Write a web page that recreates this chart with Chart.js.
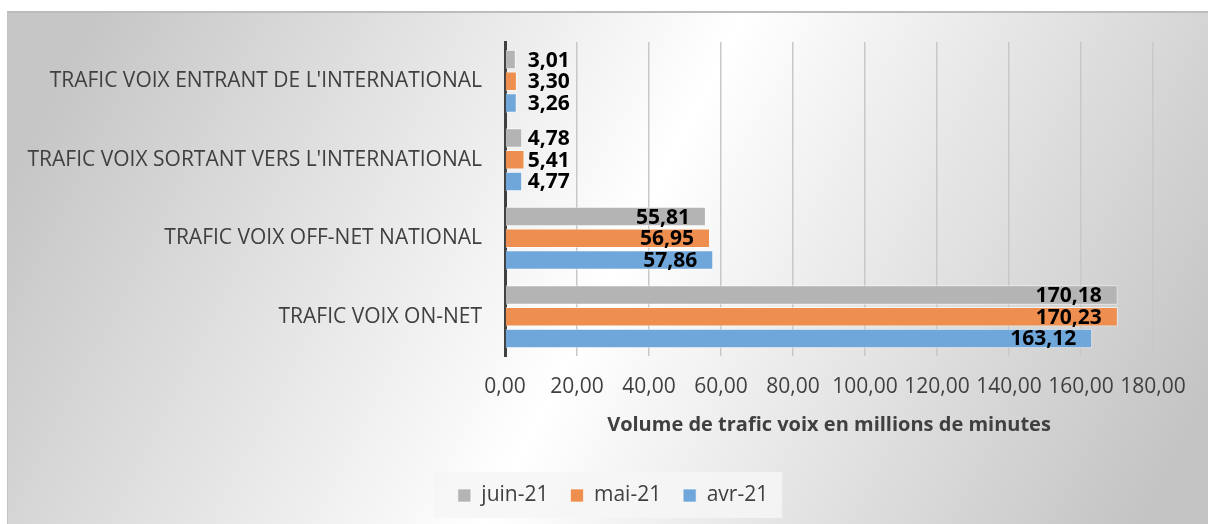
<!DOCTYPE html>
<html>
<head>
<meta charset="utf-8">
<script src="https://cdn.jsdelivr.net/npm/chart.js@4.4.1/dist/chart.umd.min.js"></script>
<style>
  html, body { margin: 0; padding: 0; background: #fff; width: 1208px; height: 524px; overflow: hidden; }
  #frame {
    position: absolute; left: 7px; top: 11px; width: 1210px; height: 520px;
    border-top: 2px solid #bcbcbc; border-left: 1px solid #c4c4c4;
    background: linear-gradient(117deg, #c6c6c6 6%, #ffffff 50%, #c3c3c3 95%);
  }
  #chart { position: absolute; left: 0; top: 0; }
</style>
</head>
<body>
<div id="frame"></div>
<canvas id="chart" width="1208" height="524"></canvas>
<script>
const categories = [
    "TRAFIC VOIX ENTRANT DE L'INTERNATIONAL",
    "TRAFIC VOIX SORTANT VERS L'INTERNATIONAL",
    "TRAFIC VOIX OFF-NET NATIONAL",
    "TRAFIC VOIX ON-NET"
];
const juin21 = [3.01, 4.78, 55.81, 170.18];
const mai21 = [3.30, 5.41, 56.95, 170.23];
const avr21 = [3.26, 4.77, 57.86, 163.12];
const xMin = 0, xMax = 180, xStep = 20;

const fmt = (v) => v.toFixed(2).replace(".", ",");
const FONT = "'Open Sans', 'DejaVu Sans', sans-serif";
const TEXT = "#404040";

// value labels: inside end when they fit, otherwise just after the bar
const valueLabels = {
    id: "valueLabels",
    afterDatasetsDraw(chart) {
        const ctx = chart.ctx;
        ctx.save();
        ctx.font = "bold 21px " + FONT;
        ctx.fillStyle = "#000";
        ctx.textBaseline = "middle";
        chart.data.datasets.forEach((ds, i) => {
            chart.getDatasetMeta(i).data.forEach((bar, j) => {
                const txt = fmt(ds.data[j]);
                const w = ctx.measureText(txt).width;
                if (bar.x - bar.base > w + 20) {
                    ctx.textAlign = "right";
                    ctx.fillText(txt, bar.x - 16, bar.y + 1);
                } else {
                    ctx.textAlign = "left";
                    ctx.fillText(txt, Math.max(bar.x - 1, bar.base + 22), bar.y + 1);
                }
            });
        });
        ctx.restore();
    }
};

// centre the legend on the whole frame, with a light box behind it
const legendBox = {
    id: "legendBox",
    afterLayout(chart) {
        const lg = chart.legend;
        if (!lg) return;
        lg.left = 73;
        lg.width = lg.right - lg.left;
    },
    beforeDraw(chart) {
        const lg = chart.legend;
        if (!lg || !lg.legendHitBoxes.length) return;
        const hb = lg.legendHitBoxes;
        const left = hb[0].left - 24;
        const last = hb[hb.length - 1];
        const right = last.left + last.width + 14;
        const ctx = chart.ctx;
        ctx.save();
        ctx.fillStyle = "rgba(246,246,246,0.85)";
        ctx.fillRect(left, lg.top + 9, right - left, 46);
        ctx.restore();
    }
};

new Chart(document.getElementById("chart"), {
    type: "bar",
    data: {
        labels: categories,
        datasets: [
            { label: "juin-21", data: juin21, backgroundColor: "#b4b4b4", borderColor: "rgba(255,255,255,0.6)", borderWidth: 1 },
            { label: "mai-21", data: mai21, backgroundColor: "#ef8f4f", borderColor: "rgba(255,255,255,0.6)", borderWidth: 1 },
            { label: "avr-21", data: avr21, backgroundColor: "#70a7da", borderColor: "rgba(255,255,255,0.6)", borderWidth: 1 }
        ]
    },
    options: {
        indexAxis: "y",
        responsive: false,
        animation: false,
        layout: { padding: { top: 42, right: 55, bottom: 8, left: 0 } },
        datasets: { bar: { categoryPercentage: 0.83, barPercentage: 0.9 } },
        scales: {
            x: {
                min: xMin,
                max: xMax,
                ticks: {
                    stepSize: xStep,
                    padding: 18,
                    color: TEXT,
                    font: { family: FONT, size: 21 },
                    callback: (v) => fmt(v)
                },
                grid: {
                    drawTicks: false,
                    lineWidth: 1.5,
                    color: (c) => (c.tick && c.tick.value === 0 ? "rgba(0,0,0,0)" : "#c8c8c8")
                },
                border: { display: false },
                title: {
                    display: true,
                    text: "Volume de trafic voix en millions de minutes",
                    color: TEXT,
                    font: { family: FONT, size: 20, weight: "bold" },
                    padding: { top: 10, bottom: 26 }
                },
                afterFit: (s) => { s.height = 107; }
            },
            y: {
                ticks: {
                    padding: 23,
                    color: TEXT,
                    font: { family: FONT, size: 21 }
                },
                grid: { display: false, drawTicks: false },
                border: { display: true, color: "#404040", width: 3 },
                afterFit: (s) => { s.width = 505; }
            }
        },
        plugins: {
            legend: {
                position: "bottom",
                labels: {
                    boxWidth: 13,
                    boxHeight: 13,
                    padding: 22,
                    color: TEXT,
                    font: { family: FONT, size: 21 }
                }
            },
            tooltip: { enabled: false }
        }
    },
    plugins: [legendBox, valueLabels]
});
</script>
</body>
</html>
